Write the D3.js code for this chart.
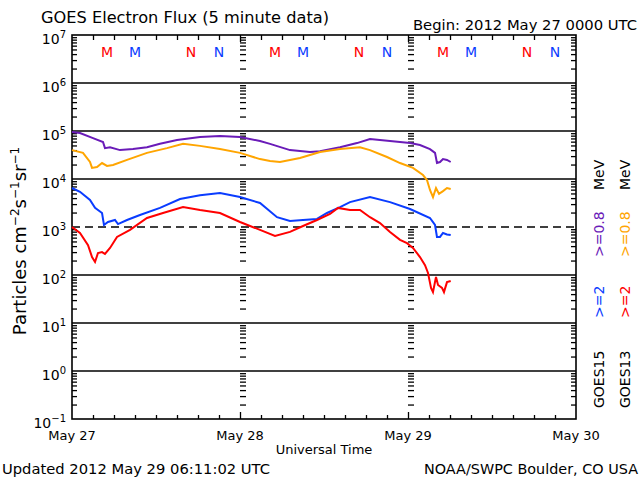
<!DOCTYPE html>
<html><head><meta charset="utf-8">
<script src="https://cdn.jsdelivr.net/npm/d3@7"></script>
<style>body{margin:0;background:#fff}svg{display:block;background:#fff}text{font-family:"DejaVu Sans",sans-serif}</style>
</head><body><svg id="c" width="640" height="480"></svg>
<script>
// Hours since 2012 May 27 00:00 UTC
const g15LowTime = [0,1.14,3,4.43,4.71,5.43,6.86,8.71,10.71,12.57,15,18.29,21.14,24,26.86,28.29,31.14,34,35.43,38.29,40.71,42.57,45.43,48.29,49.71,51.14,51.86,52.14,52.57,53,53.57,54.1];
const g15LowFlux = [9.5e4,9.1e4,7.1e4,5.9e4,4.4e4,4.6e4,4.0e4,4.2e4,4.6e4,5.4e4,6.5e4,7.5e4,7.9e4,7.5e4,6.2e4,5.4e4,4.0e4,3.65e4,3.8e4,4.6e4,5.6e4,6.8e4,6.2e4,5.6e4,5.1e4,4.2e4,3.5e4,2.15e4,2.26e4,2.6e4,2.5e4,2.26e4];
const g13LowTime = [0,1.57,2.57,2.86,3.57,4.29,5,5.86,7.86,10.71,13.57,15.86,18.29,21.14,24,26.86,28.29,29.71,32.57,35.43,38.29,41.14,42.57,45,46.86,48.71,50.14,50.71,51.14,51.57,52,52.43,53,53.57,54.1];
const g13LowFlux = [4.0e4,3.5e4,2.26e4,1.7e4,1.78e4,2.15e4,1.87e4,1.96e4,2.5e4,3.5e4,4.4e4,5.4e4,4.9e4,4.2e4,3.5e4,2.6e4,2.37e4,2.26e4,2.74e4,3.65e4,4.2e4,4.6e4,4.0e4,2.87e4,2.15e4,1.7e4,1.21e4,9.5e3,5.9e3,4.2e3,6.5e3,4.9e3,5.6e3,6.5e3,6.2e3];
const g15HighTime = [0,1.14,2.57,3.29,4.29,4.57,5.14,6.14,6.57,7.86,9.71,12.57,15.43,18.29,21.14,24,26.86,29.29,31.14,33,35,36.43,38.29,39.71,42.57,45.43,48.29,51.14,51.86,52.14,52.57,53,53.57,54.1];
const g15HighFlux = [6.5e3,5.4e3,3.65e3,2.5e3,1.96e3,1.1e3,1.27e3,1.4e3,1.15e3,1.4e3,1.78e3,2.5e3,3.83e3,4.6e3,5.1e3,4.2e3,3.16e3,1.6e3,1.33e3,1.4e3,1.47e3,1.96e3,2.6e3,3.3e3,4.2e3,3.3e3,2.37e3,1.54e3,1.1e3,6.2e2,6.2e2,7.5e2,7.0e2,6.8e2];
const g13HighTime = [0,1.14,2.29,2.86,3.29,3.71,4.29,4.71,5.43,6.43,8.29,10.71,13,15.86,18.29,21.14,24,26.86,29,31.14,33,35,36.86,38,39.71,41.14,42.57,44,45.43,46.86,47.86,48.71,49.71,50.43,50.86,51.29,51.57,52,52.29,52.86,53.14,53.57,54.1];
const g13HighFlux = [1.0e3,7.5e2,4.2e2,2.37e2,1.87e2,2.87e2,3.0e2,2.74e2,3.65e2,6.2e2,8.7e2,1.54e3,1.96e3,2.6e3,2.26e3,1.96e3,1.27e3,8.7e2,6.5e2,7.9e2,1.05e3,1.4e3,1.87e3,2.5e3,2.26e3,2.26e3,1.6e3,1.21e3,7.9e2,5.4e2,4.6e2,3.65e2,2.37e2,1.6e2,1.1e2,54,44,91,62,54,44,71,75];

const dayLabels = ["May 27","May 28","May 29","May 30"];
const dayHours = [0,24,48,72];
const decadeExps = [7,6,5,4,3,2,1,0,-1];
const markerHours = [5,9,17,21,29,33,41,45,53,57,65,69];
const markerLetters = ["M","M","N","N","M","M","N","N","M","M","N","N"];
const markerSat = ["13","15","13","15","13","15","13","15","13","15","13","15"];

const colors = {g15Low:"#6a1bb8", g13Low:"#ffa500", g15High:"#0a3cff", g13High:"#ff0000"};

const svg = d3.select("#c");
svg.append("rect").attr("width",640).attr("height",480).attr("fill","#fff");

const L=72,R=576,T=35,B=419;
const x = d3.scaleLinear().domain([0,72]).range([L,R]);
const y = d3.scaleLog().domain([0.1,1e7]).range([B,T]);

const minor = [];
for (let e=-1;e<7;e++) for (let m=2;m<=9;m++) minor.push(m*Math.pow(10,e));

function clean(g){ g.select(".domain").remove(); g.selectAll("line").attr("stroke","#000").attr("stroke-width",1.3); }

// gridlines at decades
const grid = svg.append("g");
[6,5,4,2,1,0].forEach(e=>{
  grid.append("line").attr("x1",L).attr("x2",R).attr("y1",y(Math.pow(10,e))).attr("y2",y(Math.pow(10,e)))
    .attr("stroke","#000").attr("stroke-width",1.6);
});
grid.append("line").attr("x1",L).attr("x2",R).attr("y1",y(1e3)).attr("y2",y(1e3))
  .attr("stroke","#000").attr("stroke-width",1.6).attr("stroke-dasharray","8,5");

// minor ticks left/right
svg.append("g").attr("transform",`translate(${L},0)`).call(d3.axisLeft(y).tickValues(minor).tickSize(-5).tickFormat("")).call(clean);
svg.append("g").attr("transform",`translate(${R},0)`).call(d3.axisRight(y).tickValues(minor).tickSize(-5).tickFormat("")).call(clean);
// day dividers as tick rulers
[24,48].forEach(h=>{
  svg.append("g").attr("transform",`translate(${x(h)},0)`).call(d3.axisRight(y).tickValues(minor).tickSize(6).tickFormat("")).call(clean);
});
// top/bottom ticks
const hrTicks = d3.range(3,72,3).filter(h=>h%24!==0);
svg.append("g").attr("transform",`translate(0,${T})`).call(d3.axisTop(x).tickValues(hrTicks).tickSize(-5).tickFormat("")).call(clean);
svg.append("g").attr("transform",`translate(0,${T})`).call(d3.axisTop(x).tickValues([24,48]).tickSize(-7).tickFormat("")).call(clean);
svg.append("g").attr("transform",`translate(0,${B})`).call(d3.axisBottom(x).tickValues(hrTicks).tickSize(-4).tickFormat("")).call(clean);
svg.append("g").attr("transform",`translate(0,${B})`).call(d3.axisBottom(x).tickValues([24,48]).tickSize(-7).tickFormat("")).call(clean);

// frame
svg.append("rect").attr("x",L).attr("y",T).attr("width",R-L).attr("height",B-T)
  .attr("fill","none").attr("stroke","#000").attr("stroke-width",1.6);

// series
const line = d3.line().x(d=>x(d[0])).y(d=>y(d[1]));
const series = [
  [g15LowTime,g15LowFlux,colors.g15Low],
  [g13LowTime,g13LowFlux,colors.g13Low],
  [g15HighTime,g15HighFlux,colors.g15High],
  [g13HighTime,g13HighFlux,colors.g13High]
];
series.forEach(([t,v,c])=>{
  svg.append("path").datum(t.map((h,i)=>[h,v[i]])).attr("d",line)
    .attr("fill","none").attr("stroke",c).attr("stroke-width",2).attr("stroke-linejoin","miter");
});

// M/N markers
markerHours.forEach((h,i)=>{
  svg.append("text").attr("x",x(h)).attr("y",57).attr("text-anchor","middle")
    .attr("font-size",14).attr("fill",markerSat[i]==="13"?"#ff0000":"#0a3cff").text(markerLetters[i]);
});

// y tick labels
decadeExps.forEach(e=>{
  const t = svg.append("text").attr("x",66).attr("y",y(Math.pow(10,e))+9).attr("text-anchor","end").attr("font-size",14);
  t.append("tspan").text("10");
  t.append("tspan").attr("dy",-6).attr("font-size",10).text(e<0?"\u2212"+(-e):String(e));
});

// x day labels
dayHours.forEach((h,i)=>{
  svg.append("text").attr("x",x(h)).attr("y",440).attr("text-anchor","middle").attr("font-size",13).text(dayLabels[i]);
});
svg.append("text").attr("x",324).attr("y",454).attr("text-anchor","middle").attr("font-size",13).text("Universal Time");

// titles
svg.append("text").attr("x",41).attr("y",23).attr("font-size",15).attr("textLength",288).attr("lengthAdjust","spacingAndGlyphs").text("GOES Electron Flux (5 minute data)");
svg.append("text").attr("x",413).attr("y",30).attr("font-size",14).attr("textLength",224).attr("lengthAdjust","spacingAndGlyphs").text("Begin: 2012 May 27 0000 UTC");
svg.append("text").attr("x",2).attr("y",474).attr("font-size",14).attr("textLength",268).attr("lengthAdjust","spacingAndGlyphs").text("Updated 2012 May 29 06:11:02 UTC");
svg.append("text").attr("x",424).attr("y",474).attr("font-size",14).attr("textLength",214).attr("lengthAdjust","spacingAndGlyphs").text("NOAA/SWPC Boulder, CO USA");

// y axis title
const yt = svg.append("text").attr("transform","translate(26,241) rotate(-90)").attr("text-anchor","middle").attr("font-size",18);
yt.append("tspan").text("Particles cm");
yt.append("tspan").attr("dy",-7).attr("font-size",12).text("\u22122");
yt.append("tspan").attr("dy",7).text("s");
yt.append("tspan").attr("dy",-7).attr("font-size",12).text("\u22121");
yt.append("tspan").attr("dy",7).text("sr");
yt.append("tspan").attr("dy",-7).attr("font-size",12).text("\u22121");

// right legend (rotated)
const legend = [
  {x:604, items:[["GOES15","#000",408],[">=2",colors.g15High,318],[">=0.8",colors.g15Low,257],["MeV","#000",190]]},
  {x:630, items:[["GOES13","#000",408],[">=2",colors.g13High,318],[">=0.8",colors.g13Low,257],["MeV","#000",190]]}
];
legend.forEach(col=>{
  col.items.forEach(([txt,c,yy])=>{
    svg.append("text").attr("transform",`translate(${col.x},${yy}) rotate(-90)`).attr("font-size",14).attr("fill",c).text(txt);
  });
});
</script></body></html>
